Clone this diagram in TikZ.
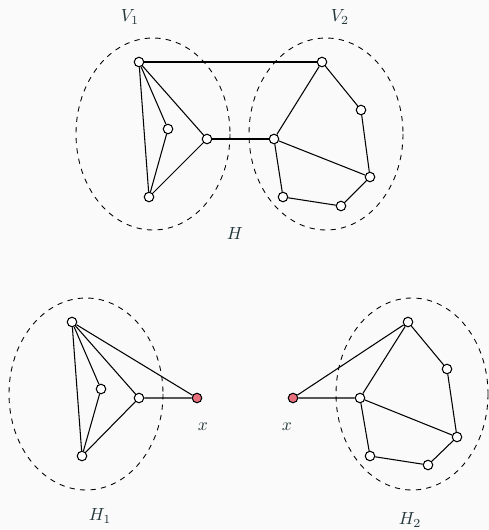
\documentclass[tikz,border=0pt]{standalone}
\usepackage{amsmath,amssymb}
\usepackage{tikz}
\usetikzlibrary{positioning}
\definecolor{mDarkTeal}{HTML}{23373B}
\definecolor{mBg}{HTML}{FAFAFA}
\definecolor{mCut}{HTML}{E8707E}

\begin{document}
\begin{tikzpicture}[x=0.02cm, y=-0.02cm,
     vtx/.style={circle, draw, fill=white, inner sep=0pt, minimum size=0.19cm, line width=0.6pt},
     cut/.style={vtx, fill=mCut},
     part/.style={draw, dashed, line width=0.5pt},
     edge/.style={line width=0.6pt},
     lbl/.style={text=mDarkTeal}]
     \fill[mBg] (0,0) rectangle (489,530);
     \useasboundingbox (0,0) rectangle (489,530);
     % graph H
     \draw[part] (153,134) ellipse [x radius=77, y radius=96];
     \draw[part] (326,134) ellipse [x radius=77, y radius=96];
     \node[vtx] (a) at (139,62) {};
     \node[vtx] (b) at (168,129) {};
     \node[vtx] (c) at (207,139) {};
     \node[vtx] (d) at (149,197) {};
     \node[vtx] (p) at (322,62) {};
     \node[vtx] (q) at (361,110) {};
     \node[vtx] (r) at (274,139) {};
     \node[vtx] (s) at (370,177) {};
     \node[vtx] (t) at (283,197) {};
     \node[vtx] (u) at (341,206) {};
     \draw[edge] (a)--(b) (a)--(c) (a)--(d) (b)--(d) (c)--(d);
     \draw[edge] (p)--(q) (p)--(r) (q)--(s) (r)--(s) (r)--(t) (t)--(u) (u)--(s);
     \draw[edge] (a)--(p) (c)--(r);
     \node[lbl] (v1) at (130,17) {$V_1$};
     \node[lbl] (v2) at (340,17) {$V_2$};
     \node[lbl] (h) at (235,233) {$H$};
     % graph H1
     \draw[part] (86,394) ellipse [x radius=77, y radius=96];
     \node[vtx] (a1) at (72,322) {};
     \node[vtx] (b1) at (101,389) {};
     \node[vtx] (c1) at (139,398) {};
     \node[vtx] (d1) at (82,456) {};
     \node[cut] (x1) at (197,398) {};
     \draw[edge] (a1)--(b1) (a1)--(c1) (a1)--(d1) (b1)--(d1) (c1)--(d1);
     \draw[edge] (a1)--(x1) (c1)--(x1);
     \node[lbl] (xl1) at (203,427) {$x$};
     \node[lbl] (h1) at (100,516) {$H_1$};
     % graph H2
     \draw[part] (412,394) ellipse [x radius=76, y radius=96];
     \node[vtx] (p2) at (408,322) {};
     \node[vtx] (q2) at (447,369) {};
     \node[vtx] (r2) at (360,398) {};
     \node[vtx] (s2) at (457,437) {};
     \node[vtx] (t2) at (370,456) {};
     \node[vtx] (u2) at (428,465) {};
     \node[cut] (x2) at (293,398) {};
     \draw[edge] (p2)--(q2) (p2)--(r2) (q2)--(s2) (r2)--(s2) (r2)--(t2) (t2)--(u2) (u2)--(s2);
     \draw[edge] (x2)--(p2) (x2)--(r2);
     \node[lbl] (xl2) at (287,427) {$x$};
     \node[lbl] (h2) at (410,520) {$H_2$};
  \end{tikzpicture}
\end{document}
